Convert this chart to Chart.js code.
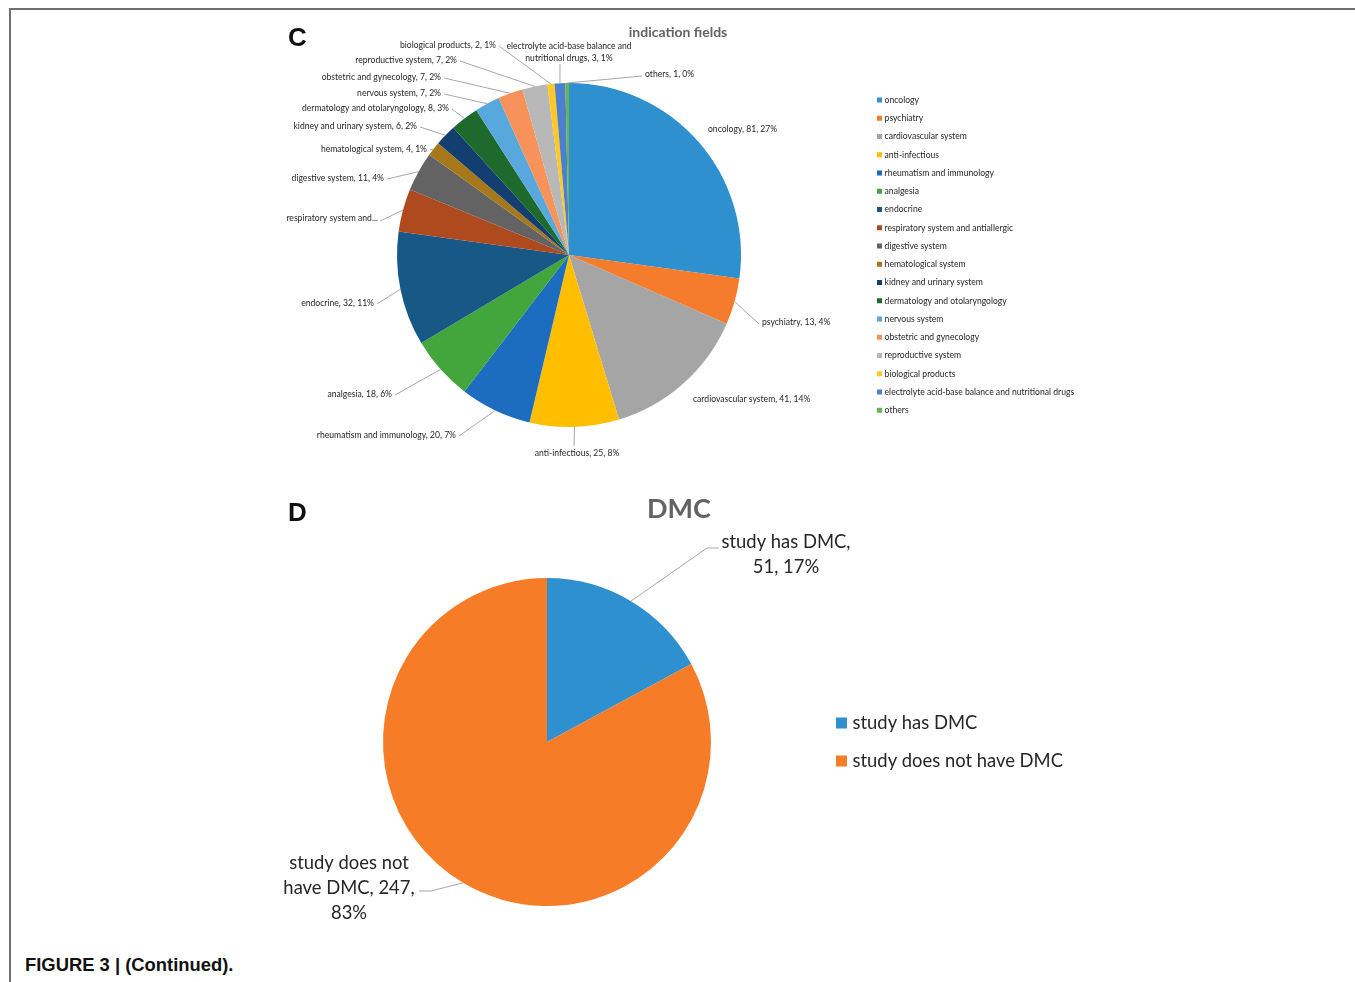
<!DOCTYPE html>
<html>
<head>
<meta charset="utf-8">
<script src="https://cdn.jsdelivr.net/npm/chart.js@4.4.1/dist/chart.umd.min.js"></script>
<style>
  body { margin: 0; background: #fff; }
  #page { position: relative; width: 1355px; height: 982px; overflow: hidden; }
  #frame { position: absolute; left: 9px; top: 8px; width: 1344px; height: 990px;
           border-top: 2px solid #707070; border-left: 2px solid #707070; border-right: 2px solid #707070; }
  canvas { position: absolute; left: 0; }
  .letter { position: absolute; font: bold 26px "Liberation Sans", Arial, sans-serif; color: #111; }
  .title { position: absolute; font-family: Lato, "Open Sans", sans-serif; font-weight: bold; color: #636363;
           transform: translate(-50%, -50%); white-space: nowrap; }
  #caption { position: absolute; left: 25px; top: 954px; font: bold 18.4px "Liberation Sans", Arial, sans-serif; color: #111; }
</style>
</head>
<body>
<div id="page">
  <div id="frame"></div>
  <canvas id="chartC" width="1355" height="480" style="top:0"></canvas>
  <canvas id="chartD" width="1355" height="460" style="top:480px"></canvas>
  <div class="letter" style="left:288px; top:22px">C</div>
  <div class="letter" style="left:288px; top:497px">D</div>
  <div class="title" style="left:678px; top:31px; font-size:14px">indication fields</div>
  <div class="title" style="left:679px; top:507px; font-size:27px">DMC</div>
  <div id="caption">FIGURE 3 | (Continued).</div>
</div>
<script>
// data
const fields = ['oncology', 'psychiatry', 'cardiovascular system', 'anti-infectious',
  'rheumatism and immunology', 'analgesia', 'endocrine', 'respiratory system and antiallergic',
  'digestive system', 'hematological system', 'kidney and urinary system',
  'dermatology and otolaryngology', 'nervous system', 'obstetric and gynecology',
  'reproductive system', 'biological products', 'electrolyte acid-base balance and nutritional drugs', 'others'];
const fieldCounts = [81, 13, 41, 25, 20, 18, 32, 12, 11, 4, 6, 8, 7, 7, 7, 2, 3, 1];

const dmcLabels = ['study has DMC', 'study does not have DMC'];
const dmcCounts = [51, 247];

// colours
const fieldColors = ['#2E90CE', '#F47C2C', '#A5A5A5', '#FFBF00', '#1C6CBF', '#42A63C', '#175887',
  '#AF4A1E', '#636363', '#A6781A', '#123E70', '#1E6A2D', '#59A8DD', '#F7925A', '#B8B8B8',
  '#FFC824', '#4C7FCE', '#66B54F'];
const dmcColors = ['#2E90CE', '#F67C28'];

// label layout: text anchor, alignment, leader end (px inside each canvas)
const layoutC = [
  { x: 708, y: 129, align: 'left' },
  { x: 762, y: 322, align: 'left', end: [759, 324] },
  { x: 693, y: 399, align: 'left' },
  { x: 577, y: 453, align: 'center', end: [574, 446] },
  { x: 456, y: 435, align: 'right', end: [459, 436] },
  { x: 392, y: 394, align: 'right', end: [395, 395] },
  { x: 374, y: 303, align: 'right', end: [377, 304] },
  { x: 378, y: 218, align: 'right', end: [380, 221], text: ['respiratory system and...'] },
  { x: 384, y: 178, align: 'right', end: [387, 179] },
  { x: 427, y: 149, align: 'right', end: [430, 150] },
  { x: 417, y: 126, align: 'right', end: [420, 127] },
  { x: 449, y: 108, align: 'right', end: [452, 109] },
  { x: 441, y: 93, align: 'right', end: [444, 94] },
  { x: 441, y: 77, align: 'right', end: [444, 78] },
  { x: 457, y: 60, align: 'right', end: [460, 61] },
  { x: 496, y: 45, align: 'right', end: [499, 46] },
  { x: 569, y: 46, align: 'center', end: [560, 64], text: ['electrolyte acid-base balance and', 'nutritional drugs, 3, 1%'] },
  { x: 645, y: 74, align: 'left', end: [642, 76] }
];
const layoutD = [
  { x: 786, y: 62, align: 'center', end: [719, 68], elbow: [707, 68], text: ['study has DMC,', '51, 17%'] },
  { x: 349, y: 383, align: 'center', end: [419, 411], elbow: [431, 411], text: ['study does not', 'have DMC, 247,', '83%'] }
];

const labelFont = 'Lato, "Open Sans", sans-serif';

function pieLabels(layout, fontSize, lineH) {
  return {
    id: 'pieLabels',
    afterDatasetsDraw(chart) {
      const ctx = chart.ctx;
      const ds = chart.data.datasets[0];
      const total = ds.data.reduce((a, b) => a + b, 0);
      const arcs = chart.getDatasetMeta(0).data;
      ctx.save();
      arcs.forEach((arc, i) => {
        const L = layout[i];
        const p = arc.getProps(['x', 'y', 'startAngle', 'endAngle', 'outerRadius'], true);
        const mid = (p.startAngle + p.endAngle) / 2;
        if (L.end) {
          ctx.strokeStyle = '#A6A6A6';
          ctx.lineWidth = 1;
          ctx.beginPath();
          ctx.moveTo(p.x + Math.cos(mid) * p.outerRadius, p.y + Math.sin(mid) * p.outerRadius);
          if (L.elbow) ctx.lineTo(L.elbow[0], L.elbow[1]);
          ctx.lineTo(L.end[0], L.end[1]);
          ctx.stroke();
        }
        const v = ds.data[i];
        const lines = L.text || [chart.data.labels[i] + ', ' + v + ', ' + Math.round(v / total * 100) + '%'];
        ctx.fillStyle = '#262626';
        ctx.font = fontSize + 'px ' + labelFont;
        ctx.textAlign = L.align;
        ctx.textBaseline = 'middle';
        lines.forEach((t, k) => ctx.fillText(t, L.x, L.y + k * lineH));
      });
      ctx.restore();
    }
  };
}

function sideLegend(x, y0, step, box, fontSize) {
  return {
    id: 'sideLegend',
    afterDraw(chart) {
      const ctx = chart.ctx;
      const ds = chart.data.datasets[0];
      ctx.save();
      ctx.font = fontSize + 'px ' + labelFont;
      ctx.textBaseline = 'middle';
      ctx.textAlign = 'left';
      chart.data.labels.forEach((lab, i) => {
        const y = y0 + i * step;
        ctx.fillStyle = ds.backgroundColor[i];
        ctx.fillRect(x, y - box / 2, box, box);
        ctx.fillStyle = '#262626';
        ctx.fillText(lab, x + box + fontSize * 0.3, y);
      });
      ctx.restore();
    }
  };
}

const baseOptions = {
  responsive: false,
  animation: false,
  plugins: { legend: { display: false }, tooltip: { enabled: false }, title: { display: false } }
};

// chart C: indication fields
new Chart(document.getElementById('chartC'), {
  type: 'pie',
  data: {
    labels: fields,
    datasets: [{ data: fieldCounts, backgroundColor: fieldColors, borderWidth: 0 }]
  },
  options: Object.assign({}, baseOptions, {
    layout: { padding: { left: 397, right: 614, top: 83, bottom: 53 } }
  }),
  plugins: [pieLabels(layoutC, 8.6, 12), sideLegend(877, 100, 18.25, 5, 8.6)]
});

// chart D: DMC
new Chart(document.getElementById('chartD'), {
  type: 'pie',
  data: {
    labels: dmcLabels,
    datasets: [{ data: dmcCounts, backgroundColor: dmcColors, borderWidth: 0 }]
  },
  options: Object.assign({}, baseOptions, {
    layout: { padding: { left: 383, right: 644, top: 98, bottom: 34 } }
  }),
  plugins: [pieLabels(layoutD, 18.4, 25), sideLegend(836, 243, 38, 11, 18.4)]
});
</script>
</body>
</html>
